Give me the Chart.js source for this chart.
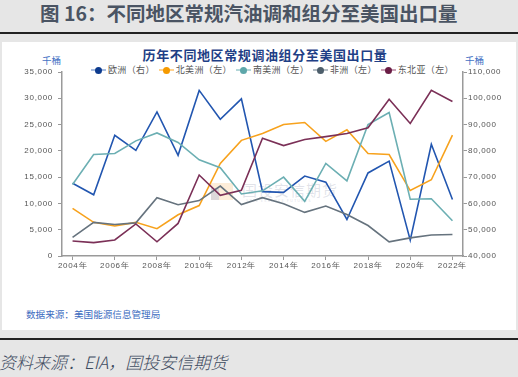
<!DOCTYPE html>
<html><head><meta charset="utf-8">
<script src="https://cdn.jsdelivr.net/npm/chart.js@4.4.1/dist/chart.umd.min.js"></script>
<style>
html,body{margin:0;padding:0;}
body{width:518px;height:377px;background:#e6e6e6;position:relative;overflow:hidden;font-family:"Noto Sans CJK SC","Noto Sans",sans-serif;}
.abs{position:absolute;white-space:nowrap;}
#ptitle{left:40px;top:0px;font-size:19.5px;font-weight:bold;color:#4a5463;line-height:25px;}
#rule1{left:0;top:32px;width:518px;height:2px;background:#222;}
#panel{left:2px;top:42px;width:514px;height:288px;background:#fff;}
#rule2{left:0;top:338px;width:518px;height:2px;background:#222;}
#foot{left:-1px;top:350px;font-size:17px;font-style:italic;font-weight:300;color:#3e4b5f;line-height:24px;}
#ctitle{left:0;width:530px;text-align:center;top:46px;font-size:13px;font-weight:bold;color:#1f3f86;letter-spacing:0.6px;line-height:18px;}
.unit{top:54px;font-size:9.5px;color:#4472c4;line-height:12px;}
#src{left:26px;top:308px;font-size:9.6px;color:#3d6cc0;line-height:12px;}
#legend{left:91px;top:64px;height:12px;display:flex;align-items:center;font-size:9px;color:#555;line-height:12px;letter-spacing:0.35px;}
.li{display:flex;align-items:center;margin-right:4px;}
.ic{position:relative;width:15px;height:10px;margin-right:2px;}
.ic .ln{position:absolute;left:0;top:4px;width:15px;height:2px;}
.ic .dt{position:absolute;left:4px;top:2px;width:7px;height:7px;border-radius:50%;}
#wm{left:242px;top:181px;font-size:15px;color:rgba(150,158,178,0.28);line-height:18px;letter-spacing:1px;}
#wm2{left:246px;top:197px;font-size:4px;color:rgba(150,158,178,0.35);letter-spacing:1px;}
#logo{left:211px;top:183px;width:22px;height:17px;background:rgba(250,215,170,0.45);}
#logo2{left:211px;top:188px;width:8px;height:12px;background:rgba(160,180,220,0.35);}
canvas{position:absolute;left:0;top:0;}
</style></head>
<body>
<div class="abs" id="ptitle">图 16：不同地区常规汽油调和组分至美国出口量</div>
<div class="abs" id="rule1"></div>
<div class="abs" id="panel"></div>
<div class="abs" id="rule2"></div>
<div class="abs" id="foot">资料来源：EIA，国投安信期货</div>
<div class="abs" id="ctitle">历年不同地区常规调油组分至美国出口量</div>
<div class="abs unit" style="left:42px;">千桶</div>
<div class="abs unit" style="left:465px;">千桶</div>
<div class="abs" id="legend"></div>
<div class="abs" id="src">数据来源：美国能源信息管理局</div>
<div class="abs" id="logo"></div>
<div class="abs" id="logo2"></div>
<div class="abs" id="wm">国投安信期货</div>
<div class="abs" id="wm2">SDIC ESSENCE FUTURES</div>
<canvas id="c" width="518" height="377"></canvas>
<script>
const years = ['2004年','2005年','2006年','2007年','2008年','2009年','2010年','2011年','2012年','2013年','2014年','2015年','2016年','2017年','2018年','2019年','2020年','2021年','2022年'];
const seriesNames = ['欧洲（右）','北美洲（左）','南美洲（左）','非洲（左）','东北亚（左）'];
const europe = [67700,63300,85900,80200,94800,78300,103000,92000,99800,64500,64200,70400,68100,53900,71600,76100,46000,82500,61500];
const northAmerica = [9050,6400,5700,6400,5200,7850,9600,17600,22000,23300,25000,25400,21800,24000,19500,19300,12450,14500,23000];
const southAmerica = [13600,19300,19500,21900,23400,21600,18300,16800,11800,12400,15000,10400,17600,14300,25000,27300,10800,10900,6700];
const africa = [3550,6400,6000,6300,11100,9750,10550,13300,9800,11100,9950,8300,9500,7900,5800,2700,3450,4000,4100];
const neAsia = [2850,2550,3050,6100,2700,6200,15400,11550,12500,22400,21000,22150,22700,23300,24400,29800,25200,31500,29400];
const leftTicks = [0,5000,10000,15000,20000,25000,30000,35000];
const rightTicks = [40000,50000,60000,70000,80000,90000,100000,110000];

const lineColors = ['#2256b0','#f7a21d','#6cafb3','#66737e','#7b3057'];
const dotColors  = ['#0d3b8e','#f59a00','#5ea7aa','#4d5e6b','#6a1d45'];
const legLine    = ['#a8bde0','#ffd28f','#b3d6d8','#b5bdc4','#caa3b8'];
const dataSets = [europe,northAmerica,southAmerica,africa,neAsia];
const axes = ['yR','yL','yL','yL','yL'];

const leg = document.getElementById('legend');
seriesNames.forEach((n,i)=>{
  const d=document.createElement('div');d.className='li';
  d.innerHTML='<div class="ic"><div class="ln" style="background:'+legLine[i]+'"></div><div class="dt" style="background:'+dotColors[i]+'"></div></div><span>'+n+'</span>';
  leg.appendChild(d);
});

const fmt = v => v.toLocaleString('en-US');
const tickFont = {family:'"Liberation Sans", Arial, sans-serif', size:8};

const spacing = {id:'spacing', beforeDraw(ch){ ch.ctx.letterSpacing='0.7px'; }};

new Chart(document.getElementById('c'), {
  type:'line',
  data:{
    labels: years,
    datasets: dataSets.map((d,i)=>({
      label: seriesNames[i], data: d, yAxisID: axes[i],
      borderColor: lineColors[i], backgroundColor: lineColors[i],
      borderWidth: 1.6, pointRadius: 0, tension: 0, fill:false
    })).reverse()
  },
  options:{
    responsive:false, animation:false, devicePixelRatio:1,
    layout:{padding:{top:72,left:0,right:0,bottom:0}},
    plugins:{legend:{display:false}, title:{display:false}, tooltip:{enabled:false}},
    scales:{
      x:{
        type:'category', offset:true,
        grid:{drawOnChartArea:false, drawTicks:true, tickLength:4,
              tickColor:(c)=> (c.index%2===0 ? '#999' : 'rgba(0,0,0,0)')},
        border:{display:true,color:'#9a9a9a',width:1.5},
        ticks:{autoSkip:false, maxRotation:0, color:'#555', font:tickFont, padding:1,
               callback:function(v,i){ return i%2===0 ? years[i] : ''; }},
        afterFit(s){ s.height = 121; }
      },
      yL:{
        position:'left', min:0, max:35000,
        afterBuildTicks(s){ s.ticks = leftTicks.map(v=>({value:v})); },
        grid:{drawOnChartArea:false, tickLength:4, tickColor:'#999'},
        border:{display:true,color:'#9a9a9a',width:1.5},
        ticks:{color:'#555', font:tickFont, padding:5, callback:v=>fmt(v)},
        afterFit(s){ s.width = 62; }
      },
      yR:{
        position:'right', min:40000, max:110000,
        afterBuildTicks(s){ s.ticks = rightTicks.map(v=>({value:v})); },
        grid:{drawOnChartArea:false, tickLength:4, tickColor:'#999'},
        border:{display:true,color:'#9a9a9a',width:1.5},
        ticks:{color:'#555', font:tickFont, padding:1, callback:v=>fmt(v)},
        afterFit(s){ s.width = 55; }
      }
    }
  },
  plugins:[spacing]
});
</script>
</body></html>
